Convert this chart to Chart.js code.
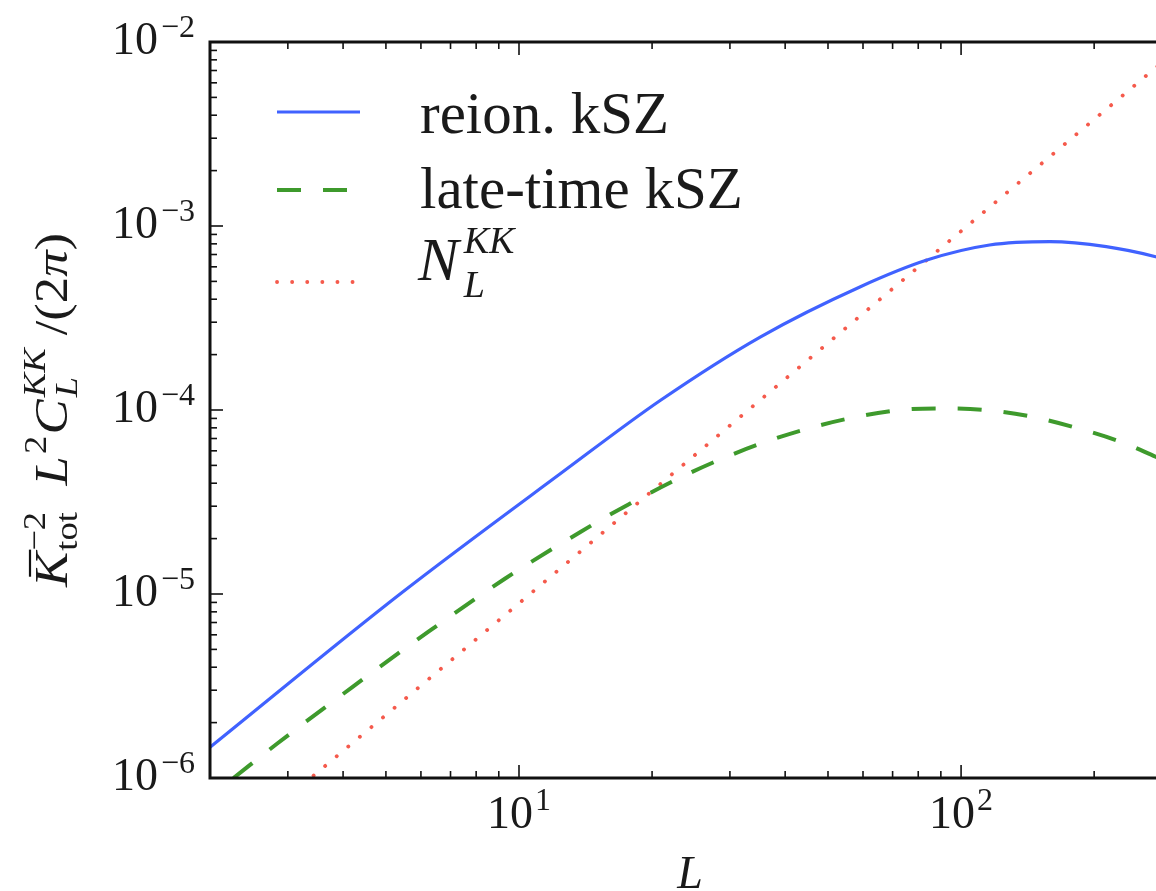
<!DOCTYPE html>
<html>
<head>
<meta charset="utf-8">
<script src="https://cdn.jsdelivr.net/npm/chart.js@4.4.0/dist/chart.umd.min.js"></script>
<style>
  html, body { margin: 0; padding: 0; background: #fff; overflow: hidden; }
  #wrap { width: 1156px; height: 891px; overflow: hidden; }
</style>
</head>
<body>
<div id="wrap"><canvas id="chart" width="1180" height="891"></canvas></div>
<script>
// values (L, value)
const reionL   = [2.0, 5.41, 12.44, 20.9, 35.2, 59.2, 83.7, 116, 158.8, 213, 275.5, 300];
const reionKSZ = [1.47e-6, 1.01e-5, 4.53e-5, 1.13e-4, 2.5e-4, 4.68e-4, 6.53e-4, 7.88e-4, 8.22e-4, 7.72e-4, 6.81e-4, 6.4e-4];

const lateL   = [2.26, 2.83, 4.19, 6.24, 9.29, 13.8, 17.6, 27.4, 43.3, 69.8, 88.9, 113.3, 144.4, 184, 232.5, 275.5, 300];
const lateKSZ = [1.0e-6, 1.53e-6, 3.11e-6, 6.24e-6, 1.21e-5, 2.18e-5, 3.05e-5, 5.17e-5, 7.72e-5, 9.88e-5, 1.02e-4, 1.0e-4, 9.2e-5, 7.95e-5, 6.64e-5, 5.57e-5, 5.1e-5];

const noiseL  = [3.43, 10, 18.5, 83.7, 300];
const noiseKK = [1.03e-6, 8.9e-6, 3.1e-5, 6.55e-4, 8.6e-3];

const xTickValues = [10, 100];
const xTickExps   = ['1', '2'];
const yTickValues = [1e-6, 1e-5, 1e-4, 1e-3, 1e-2];
const yTickExps   = ['\u22126', '\u22125', '\u22124', '\u22123', '\u22122'];

const SERIF = '"Liberation Serif", "DejaVu Serif", serif';

function toPoints(xs, ys) {
    return xs.map((x, i) => ({ x: x, y: ys[i] }));
}

// draws text pieces along a baseline, pieces with sup/sub are stacked
function drawPieces(ctx, pieces, x, y, draw) {
    let cx = x;
    for (const p of pieces) {
        if (p.sup !== undefined || p.sub !== undefined) {
            let w = 0;
            cx += (p.before || 0);
            if (p.sup) {
                ctx.font = p.supFont;
                if (draw) ctx.fillText(p.sup, cx, y - p.rise);
                w = Math.max(w, ctx.measureText(p.sup).width);
            }
            if (p.sub) {
                ctx.font = p.subFont;
                if (draw) ctx.fillText(p.sub, cx, y + p.drop);
                w = Math.max(w, ctx.measureText(p.sub).width);
            }
            cx += w + (p.after || 0);
        } else {
            ctx.font = p.font;
            if (draw) ctx.fillText(p.t, cx, y);
            if (p.bar && draw) {
                const bw = ctx.measureText(p.t).width;
                ctx.save();
                ctx.lineWidth = 2.2;
                ctx.strokeStyle = '#111';
                ctx.beginPath();
                ctx.moveTo(cx + 9, y - 37);
                ctx.lineTo(cx + bw + 2, y - 37);
                ctx.stroke();
                ctx.restore();
            }
            cx += ctx.measureText(p.t).width;
        }
    }
    return cx - x;
}

const framePlugin = {
    id: 'frame',
    afterDraw(chart) {
        const ctx = chart.ctx;
        const xs = chart.scales.x;
        const ys = chart.scales.y;
        const a = chart.chartArea;
        ctx.save();

        // inward ticks on all four sides
        ctx.strokeStyle = '#111';
        ctx.lineWidth = 1.6;
        const tick = (x1, y1, x2, y2) => {
            ctx.beginPath(); ctx.moveTo(x1, y1); ctx.lineTo(x2, y2); ctx.stroke();
        };
        for (let d = 1; d <= 100; d *= 10) {
            for (let m = 1; m <= 9; m++) {
                const v = d * m;
                if (v < xs.min || v > xs.max) continue;
                const px = xs.getPixelForValue(v);
                const len = m === 1 ? 13 : 7;
                tick(px, a.bottom, px, a.bottom - len);
                tick(px, a.top, px, a.top + len);
            }
        }
        for (let d = 1e-6; d < 1.5e-2; d *= 10) {
            for (let m = 1; m <= 9; m++) {
                const v = d * m;
                if (v < ys.min * 0.999 || v > ys.max * 1.001) continue;
                const py = ys.getPixelForValue(v);
                const len = m === 1 ? 13 : 7;
                tick(a.left, py, a.left + len, py);
                tick(a.right, py, a.right - (m === 1 ? 16 : 7), py);
            }
        }

        // frame
        ctx.lineWidth = 3;
        ctx.strokeStyle = '#111';
        ctx.strokeRect(a.left, a.top, a.right - a.left, a.bottom - a.top);

        ctx.fillStyle = '#1a1a1a';
        ctx.textBaseline = 'alphabetic';
        const big = '46px ' + SERIF;
        const small = '32px ' + SERIF;

        // y tick labels, right aligned
        yTickValues.forEach((v, i) => {
            const py = ys.getPixelForValue(v);
            ctx.font = small;
            const ew = ctx.measureText(yTickExps[i]).width;
            ctx.font = big;
            const bw = ctx.measureText('10').width;
            const right = 195;
            ctx.textAlign = 'left';
            ctx.font = big;
            ctx.fillText('10', right - ew - bw - 3, py + 12);
            ctx.font = small;
            ctx.fillText(yTickExps[i], right - ew, py - 5);
        });

        // x tick labels, centred
        xTickValues.forEach((v, i) => {
            const px = xs.getPixelForValue(v);
            ctx.font = small;
            const ew = ctx.measureText(xTickExps[i]).width;
            ctx.font = big;
            const bw = ctx.measureText('10').width;
            const left = px - (bw + ew + 2) / 2;
            ctx.textAlign = 'left';
            ctx.font = big;
            ctx.fillText('10', left, 828);
            ctx.font = small;
            ctx.fillText(xTickExps[i], left + bw + 2, 810);
        });

        // x axis title
        ctx.font = 'italic 46px ' + SERIF;
        ctx.textAlign = 'center';
        ctx.fillText('L', 690, 888);

        // y axis title, rotated, stretched to the reference length
        ctx.textAlign = 'left';
        const F = 'italic 46px ' + SERIF;
        const R = '46px ' + SERIF;
        const sI = 'italic 32px ' + SERIF;
        const sR = '32px ' + SERIF;
        const title = [
            { t: 'K', font: F, bar: true },
            { sup: '\u22122', supFont: sR, rise: 22, sub: 'tot', subFont: sR, drop: 10, before: 1 },
            { t: '  ', font: R },
            { t: 'L', font: F },
            { sup: '2', supFont: sR, rise: 21, after: 1, before: 2 },
            { t: 'C', font: F },
            { sup: 'KK', supFont: sI, rise: 22, sub: 'L', subFont: sI, drop: 10, before: 2 },
            { t: ' /(2', font: R },
            { t: '\u03c0', font: F },
            { t: ')', font: R }
        ];
        const tw = drawPieces(ctx, title, 0, 0, false);
        const stretch = 354 / tw;
        ctx.save();
        ctx.translate(67, 410);
        ctx.rotate(-Math.PI / 2);
        ctx.scale(stretch, 1);
        drawPieces(ctx, title, -tw / 2, 0, true);
        ctx.restore();

        // legend
        const sets = chart.data.datasets;
        const rows = [112, 190, 282];
        const textBase = [133, 208, 280];
        sets.forEach((ds, i) => {
            ctx.save();
            ctx.strokeStyle = ds.borderColor;
            ctx.lineWidth = ds.borderWidth;
            ctx.lineCap = ds.borderCapStyle || 'butt';
            ctx.setLineDash(ds.borderDash || []);
            ctx.beginPath();
            ctx.moveTo(277, rows[i]);
            ctx.lineTo(360, rows[i]);
            ctx.stroke();
            ctx.restore();
        });
        ctx.font = '50px ' + SERIF;
        const lw = ctx.measureText('late-time kSZ').width;
        const lf = Math.round(50 * 323 / lw);
        const LF = lf + 'px ' + SERIF;
        ctx.font = LF;
        ctx.fillText('reion. kSZ', 420, textBase[0]);
        ctx.fillText('late-time kSZ', 420, textBase[1]);
        drawPieces(ctx, [
            { t: 'N', font: 'italic ' + (lf + 2) + 'px ' + SERIF },
            { sup: 'KK', supFont: 'italic 38px ' + SERIF, rise: 27, sub: 'L', subFont: 'italic 38px ' + SERIF, drop: 17, before: 5 }
        ], 418, textBase[2], true);

        ctx.restore();
    }
};

new Chart(document.getElementById('chart').getContext('2d'), {
    type: 'line',
    data: {
        datasets: [{
            label: 'reion. kSZ',
            data: toPoints(reionL, reionKSZ),
            borderColor: '#4062ff',
            borderWidth: 3.2,
            pointRadius: 0,
            cubicInterpolationMode: 'monotone'
        }, {
            label: 'late-time kSZ',
            data: toPoints(lateL, lateKSZ),
            borderColor: '#3e9a2c',
            borderWidth: 4,
            borderDash: [24, 22],
            borderCapStyle: 'butt',
            pointRadius: 0,
            cubicInterpolationMode: 'monotone'
        }, {
            label: 'N_L^KK',
            data: toPoints(noiseL, noiseKK),
            borderColor: '#f55a4c',
            borderWidth: 3.8,
            borderDash: [0.1, 15],
            borderCapStyle: 'round',
            pointRadius: 0,
            tension: 0
        }]
    },
    options: {
        responsive: false,
        animation: false,
        layout: { padding: { left: 210, top: 42, right: 8, bottom: 113 } },
        plugins: { legend: { display: false }, tooltip: { enabled: false } },
        scales: {
            x: { type: 'logarithmic', min: 2, max: 300, display: false },
            y: { type: 'logarithmic', min: 1e-6, max: 1e-2, display: false }
        }
    },
    plugins: [framePlugin]
});
</script>
</body>
</html>
